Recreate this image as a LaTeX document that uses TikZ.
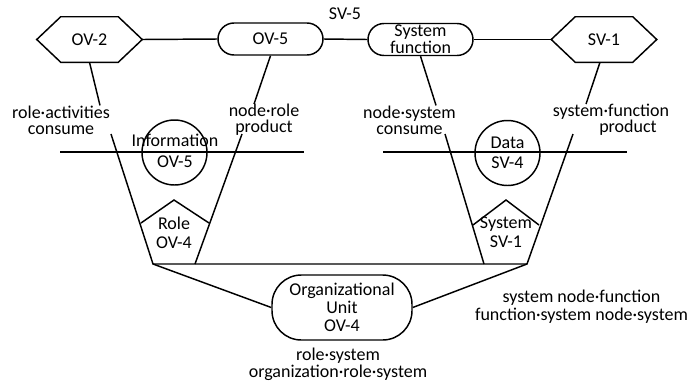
\documentclass[tikz,border=0pt]{standalone}
\usepackage{fontspec}
\setmainfont{Carlito}
\begin{document}
\begin{tikzpicture}[x=0.75pt,y=-0.75pt,
  every node/.style={font=\fontsize{13.5}{12}\selectfont, inner sep=0pt, align=center},
  line/.style={draw=black, line width=1.1pt},
  pill/.style={draw=black, line width=1.1pt, rounded corners=12pt, minimum width=78.75pt, minimum height=24pt},
  hexbox/.style={minimum width=78.75pt, minimum height=33.75pt},
  ringnode/.style={circle, draw=black, line width=1.1pt, minimum size=48.75pt}]
\useasboundingbox (0,0) rectangle (688,383);
\newcommand\myhex[1]{\draw[line] (#1.west) -- ([xshift=18pt]#1.north west) -- ([xshift=-18pt]#1.north east) -- (#1.east) -- ([xshift=-18pt]#1.south east) -- ([xshift=18pt]#1.south west) -- cycle;}

% top row
\node[hexbox] (ov2) at (89.5,39.5) {OV-2};
\myhex{ov2}
\node[pill] (ov5) at (270.5,39) {OV-5};
\node[pill, font=\fontsize{13.5}{11.5}\selectfont] (sysf) at (420.5,39.5) {System\\function};
\node[hexbox] (sv1) at (604,39.5) {SV-1};
\myhex{sv1}
\node (sv5) at (345,14) {SV-5};
\draw[line] (ov2.east) -- (ov5.west);
\draw[line] (ov5.east) -- (sysf.west);
\draw[line] (sysf.east) -- (sv1.west);

% labels under top row
\node (l1) at (61,120) {role·activities\\consume};
\node (l2) at (264,120) {node·role\\product};
\node (l3) at (409.5,120) {node·system\\consume};
\node (l4a) at (611,112) {system·function};
\node (l4b) at (628,128) {product};
\draw[line] (ov2.south) -- ([xshift=29.25pt]l1.north);
\draw[line] (ov5.south) -- ([xshift=-7.5pt]l2.north);
\draw[line] (sysf.south) -- ([xshift=19.9pt]l3.north);
\draw[line] ([xshift=-3pt]sv1.south) -- ([xshift=-18.75pt]l4a.north);

% horizontal store lines and circles
\coordinate (h1) at (60,152);
\coordinate (h2) at (304,152);
\coordinate (h3) at (383,152);
\coordinate (h4) at (627,152);
\draw[line] (h1) -- (h2);
\draw[line] (h3) -- (h4);
\node[ringnode] (infoc) at (174.5,152.5) {};
\node[font=\fontsize{13.5}{16}\selectfont] (infot) at (175,151) {Information\\OV-5};
\node[ringnode] (datac) at (507.5,153) {};
\node[font=\fontsize{13.5}{15}\selectfont] (datat) at (507.5,152.5) {Data\\SV-4};

% trapezoids
\coordinate (a1) at (111,134);
\coordinate (a2) at (153,264);
\coordinate (a3) at (195,264);
\coordinate (a4) at (242,134);
\coordinate (b1) at (445,134);
\coordinate (b2) at (484,264);
\coordinate (b3) at (527,264);
\coordinate (b4) at (573,134);
\draw[line] (a1) -- (a2) -- (b3) -- (b4);
\draw[line] (a4) -- (a3);
\draw[line] (b1) -- (b2);

% pentagon roofs
\coordinate (p1) at (141,223);
\coordinate (p2) at (174,200);
\coordinate (p3) at (209,223);
\coordinate (q1) at (473,225);
\coordinate (q2) at (506,200);
\coordinate (q3) at (539,225);
\draw[line] (p1) -- (p2) -- (p3);
\draw[line] (q1) -- (q2) -- (q3);
\node[font=\fontsize{13.5}{14}\selectfont] (role) at (174,232.5) {Role\\OV-4};
\node[font=\fontsize{13.5}{14}\selectfont] (sys) at (506,232) {System\\SV-1};

% organizational unit
\node[pill, rounded corners=22pt, minimum width=105pt, minimum height=48.75pt, font=\fontsize{13.5}{13.5}\selectfont] (org) at (342,307.5) {Organizational\\Unit\\OV-4};
\draw[line] (a2) -- (org.west);
\draw[line] (b3) -- (org.east);

\node[font=\fontsize{13.5}{12.75}\selectfont] (l5) at (338,364.5) {role·system\\organization·role·system};
\node[font=\fontsize{13.5}{13.5}\selectfont] (l6) at (581.5,307) {system node·function\\function·system node·system};
\end{tikzpicture}
\end{document}
